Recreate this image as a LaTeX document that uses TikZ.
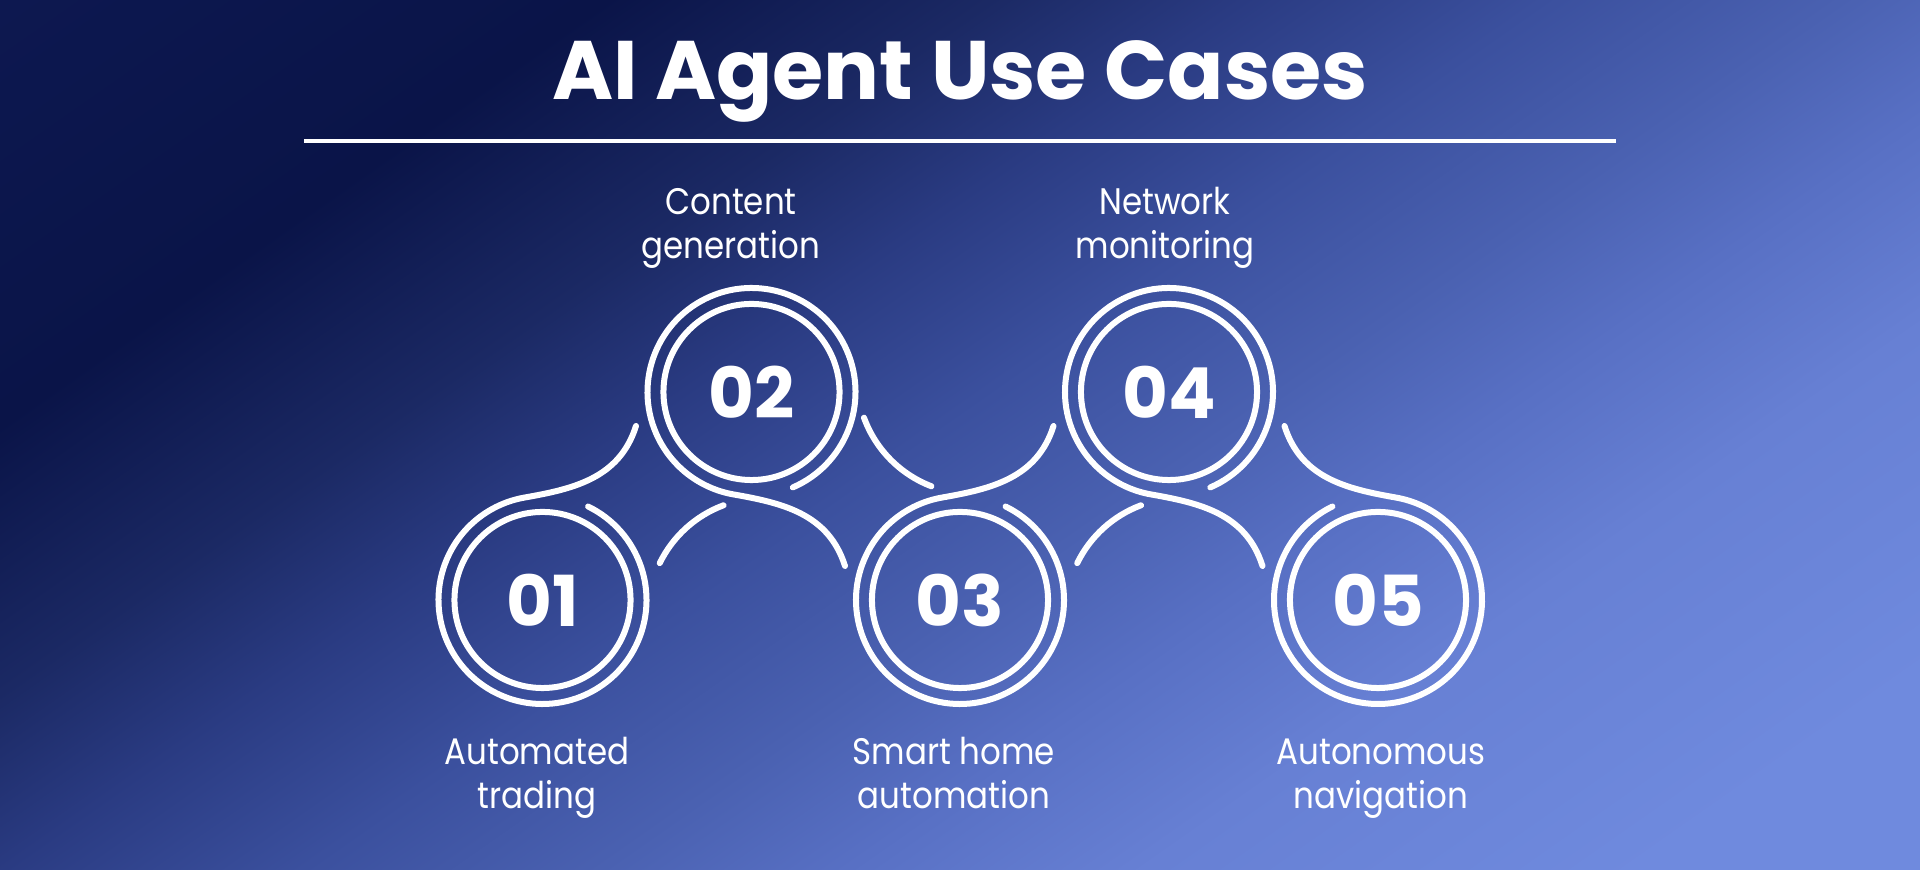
\documentclass[tikz,border=0pt]{standalone}
\usepackage{fontspec}
\setmainfont{Poppins}
\newfontfamily\lblfont{Poppins}[FakeStretch=0.88]
\usetikzlibrary{calc}
\definecolor{bg0}{HTML}{0D1850}
\definecolor{bg1}{HTML}{0A1448}
\definecolor{bg2}{HTML}{1B2964}
\definecolor{bg3}{HTML}{2A3B82}
\definecolor{bg4}{HTML}{3B509E}
\definecolor{bg5}{HTML}{4A61B1}
\definecolor{bg6}{HTML}{5870C4}
\definecolor{bg7}{HTML}{6780D4}
\definecolor{bg8}{HTML}{6F8ADE}
\pgfdeclarehorizontalshading{bgshade}{100bp}{color(0bp)=(bg0); color(29.4bp)=(bg0); color(37.3bp)=(bg1); color(42.3bp)=(bg2); color(45.6bp)=(bg3); color(49.5bp)=(bg4); color(53.4bp)=(bg5); color(56.6bp)=(bg6); color(60.5bp)=(bg7); color(67bp)=(bg8); color(100bp)=(bg8)}
\tikzset{
  ring/.style={draw=white, line width=0.06cm, line cap=round},
  numcircle/.style={circle, draw=white, line width=0.06cm, minimum size=1.76cm, inner sep=0pt, text=white, font=\fontsize{20pt}{21pt}\selectfont\bfseries},
  lbl/.style={text=white, font=\lblfont\fontsize{10.5pt}{12.4pt}\selectfont, inner sep=0pt},
  titlestyle/.style={text=white, font=\fontsize{23.6pt}{26pt}\selectfont\bfseries, inner sep=0pt},
  rulestyle/.style={draw=white, line width=0.045cm}
}
\begin{document}
\begin{tikzpicture}[x=0.01cm, y=0.01cm]
\useasboundingbox (0,0) rectangle (1920,870);
\begin{scope}
  \clip (0,0) rectangle (1920,870);
  \shade[shading=bgshade, shading angle=-55] (-140,-665) rectangle (2060,1535);
\end{scope}

% title and rule
\node[titlestyle, anchor=base] (title) at (960,770) {AI Agent Use Cases};
\coordinate (rl) at (304,729);
\coordinate (rr) at (1616,729);
\draw[rulestyle] (rl) -- (rr);

% numbered circles
\node[numcircle] (n1) at (542.5,270) {01};
\node[numcircle] (n2) at (751.5,478) {02};
\node[numcircle] (n3) at (960,270) {03};
\node[numcircle] (n4) at (1169,478) {04};
\node[numcircle] (n5) at (1378,270) {05};

% outer rings with S-shaped tails
\draw[ring] ($(n1)+(64:104)$) arc[start angle=64, end angle=-260, radius=104]
  .. controls ($(n1)+(31.2,111.1)$) and ($(n1)+(77,121.75)$) .. ($(n1)+(93.5,174)$);
\draw[ring] ($(n2)+(293.4:104)$) arc[start angle=293.4, end angle=620, radius=104]
  .. controls ($(n2)+(31.2,-111.1)$) and ($(n2)+(77,-121.75)$) .. ($(n2)+(93.5,-174)$);
\draw[ring] ($(n3)+(64:104)$) arc[start angle=64, end angle=-260, radius=104]
  .. controls ($(n3)+(31.2,111.1)$) and ($(n3)+(77,121.75)$) .. ($(n3)+(93.5,174)$);
\draw[ring] ($(n4)+(293.4:104)$) arc[start angle=293.4, end angle=620, radius=104]
  .. controls ($(n4)+(31.2,-111.1)$) and ($(n4)+(77,-121.75)$) .. ($(n4)+(93.5,-174)$);
\draw[ring] ($(n5)+(-93.5,174)$)
  .. controls ($(n5)+(-77,121.75)$) and ($(n5)+(-31.2,111.1)$) .. ($(n5)+(80:104)$)
  arc[start angle=80, end angle=-244, radius=104];

% short connecting arcs
\draw[ring] ($(n1)+(221.5,-14)+(110.4:116)$) arc[start angle=110.4, end angle=154, radius=116];
\draw[ring] ($(n2)+(221.5,14)+(200:116)$) arc[start angle=200, end angle=249, radius=116];
\draw[ring] ($(n3)+(221.5,-14)+(110.4:116)$) arc[start angle=110.4, end angle=154, radius=116];

% labels
\node[lbl, anchor=base] (l1) at (537,105) {\begin{tabular}[t]{@{}c@{}}Automated\\trading\end{tabular}};
\node[lbl, anchor=base] (l2) at (731,655) {\begin{tabular}[t]{@{}c@{}}Content\\generation\end{tabular}};
\node[lbl, anchor=base] (l3) at (954,105) {\begin{tabular}[t]{@{}c@{}}Smart home\\automation\end{tabular}};
\node[lbl, anchor=base] (l4) at (1165,655) {\begin{tabular}[t]{@{}c@{}}Network\\monitoring\end{tabular}};
\node[lbl, anchor=base] (l5) at (1381,105) {\begin{tabular}[t]{@{}c@{}}Autonomous\\navigation\end{tabular}};
\end{tikzpicture}
\end{document}
